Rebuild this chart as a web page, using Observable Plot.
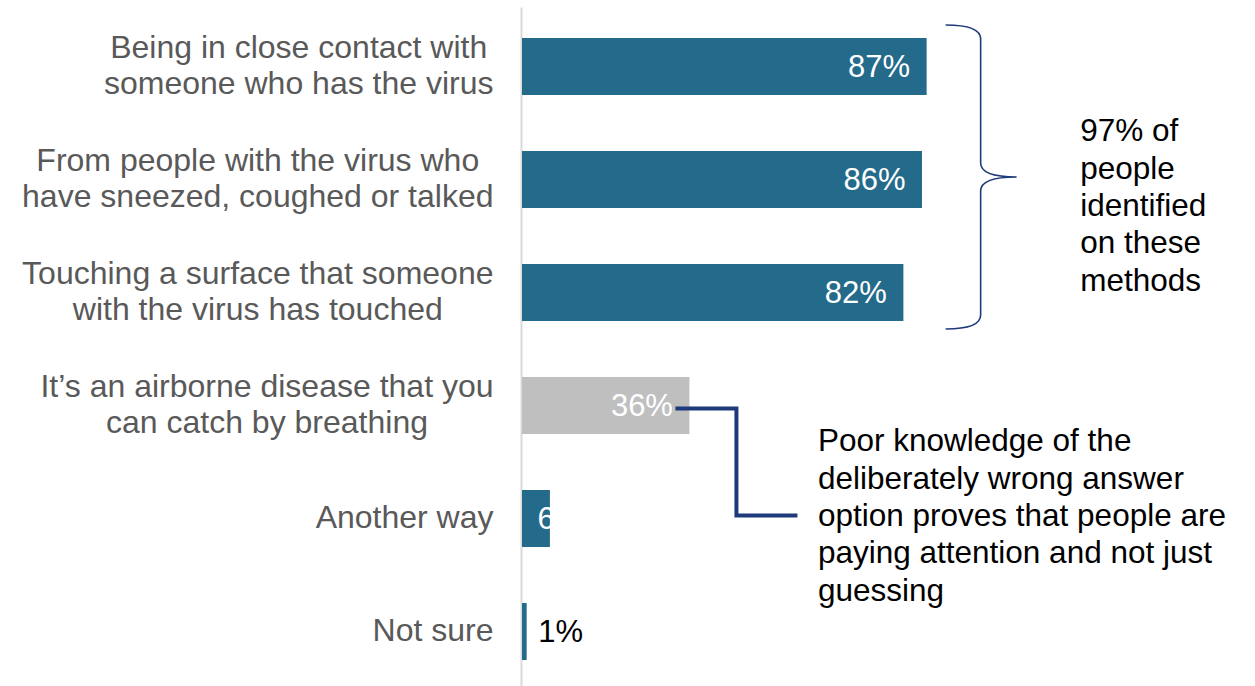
<!DOCTYPE html>
<html>
<head>
<meta charset="utf-8">
<script src="https://cdn.jsdelivr.net/npm/d3@7"></script>
<script src="https://cdn.jsdelivr.net/npm/@observablehq/plot@0.6"></script>
<style>
  html, body { margin: 0; padding: 0; background: #fff; }
  #chart svg { display: block; }
</style>
</head>
<body>
<div id="chart"></div>
<script>
// ---- data ----
const categories = [
  "Being in close contact with\nsomeone who has the virus",
  "From people with the virus who\nhave sneezed, coughed or talked",
  "Touching a surface that someone\nwith the virus has touched",
  "It’s an airborne disease that you\ncan catch by breathing",
  "Another way",
  "Not sure"
];
const values = [87, 86, 82, 36, 6, 1];
const wrongAnswer = categories[3];
const braceNote = "97% of\npeople\nidentified\non these\nmethods";
const wrongNote = "Poor knowledge of the\ndeliberately wrong answer\noption proves that people are\npaying attention and not just\nguessing";

(function () {
const rows = categories.map((category, i) => ({category, value: values[i]}));

// ---- style ----
const FONT = '"Liberation Sans", Arial, Helvetica, sans-serif';
const BLUE = "#246a8a";
const GREY = "#bfbfbf";
const NAVY = "#1f3a7a";
const catSize = 32;

const ctx = document.createElement("canvas").getContext("2d");
ctx.font = `${catSize}px ${FONT}`;
const blockWidth = s => d3.max(s.split("\n"), l => ctx.measureText(l).width);

const labelMarks = rows.map(r => Plot.text([r], {
  x: () => 0, y: "category", text: "category",
  textAnchor: "middle", lineAnchor: "middle",
  dx: -29 - blockWidth(r.category) / 2, dy: -2.5,
  fill: "#595959", fontSize: catSize, lineHeight: 1.13, fontFamily: FONT
}));

const chart = Plot.plot({
  width: 1255,
  height: 686,
  marginLeft: 522,
  marginRight: 0,
  marginTop: 14.5,
  marginBottom: 3,
  style: {fontFamily: FONT, background: "#fff"},
  x: {domain: [0, 157.6], axis: null},
  y: {domain: categories, axis: null, paddingInner: 0.5, paddingOuter: 0.2},
  marks: [
    Plot.ruleX([0], {stroke: "#d9d9d9", strokeWidth: 2, dx: -1, insetTop: -7, insetBottom: -3}),
    Plot.barX(rows, {filter: d => d.category !== wrongAnswer, x: "value", y: "category", fill: BLUE}),
    Plot.barX(rows, {filter: d => d.category === wrongAnswer, x: "value", y: "category", fill: GREY}),
    ...labelMarks,
    Plot.text(rows, {filter: d => d.value >= 10, x: "value", y: "category", text: d => d.value + "%",
      textAnchor: "end", dx: -17, fill: "white", fontSize: 31, fontFamily: FONT}),
    Plot.text(rows, {filter: d => d.value >= 2 && d.value < 10, x: () => 0, y: "category", text: d => d.value + "%",
      textAnchor: "start", dx: 15, fill: "white", fontSize: 31, fontFamily: FONT}),
    Plot.text(rows, {filter: d => d.value < 2, x: "value", y: "category", text: d => d.value + "%",
      textAnchor: "start", dx: 11, fill: "#000", fontSize: 31, fontFamily: FONT}),
    Plot.text([braceNote], {x: () => values[0], y: () => categories[1], text: d => d,
      textAnchor: "start", lineAnchor: "middle", dx: 153, dy: 24,
      fill: "#000", fontSize: 31.5, lineHeight: 1.19, fontFamily: FONT}),
    Plot.text([wrongNote], {x: () => values[3], y: () => categories[4], text: d => d,
      textAnchor: "start", lineAnchor: "middle", dx: 128, dy: -5,
      fill: "#000", fontSize: 31.5, lineHeight: 1.19, fontFamily: FONT})
  ]
});

document.getElementById("chart").appendChild(chart);

// ---- annotation shapes, positioned from the plot's own scales ----
const xs = chart.scale("x");
const ys = chart.scale("y");
const bw = ys.bandwidth;
const bandTop = c => ys.apply(c);
const bandMid = c => ys.apply(c) + bw / 2;
const bandBot = c => ys.apply(c) + bw;

// brace around the first three bars
{
  const xr = xs.apply(values[0]);
  const xl = xr + 19, xsp = xr + 54, xt = xr + 90;
  const y0 = bandTop(categories[0]) - 13;
  const y1 = bandBot(categories[2]) + 8;
  const ym = (y0 + y1) / 2;
  const r = 14;
  const p = d3.path();
  p.moveTo(xl, y0);
  p.quadraticCurveTo(xsp, y0, xsp, y0 + r);
  p.lineTo(xsp, ym - r);
  p.quadraticCurveTo(xsp, ym, xt, ym);
  p.quadraticCurveTo(xsp, ym, xsp, ym + r);
  p.lineTo(xsp, y1 - r);
  p.quadraticCurveTo(xsp, y1, xl, y1);
  d3.select(chart).append("path")
    .attr("d", p.toString())
    .attr("fill", "none")
    .attr("stroke", NAVY)
    .attr("stroke-width", 1.6);
}

// elbow connector from the wrong-answer bar label to its note
{
  const xv = xs.apply(values[3]);
  const ya = bandMid(categories[3]) + 3;
  const yb = bandMid(categories[4]) - 3;
  const pts = [[xv - 14, ya], [xv + 47, ya], [xv + 47, yb], [xv + 108, yb]];
  d3.select(chart).append("path")
    .attr("d", d3.line()(pts))
    .attr("fill", "none")
    .attr("stroke", NAVY)
    .attr("stroke-width", 4);
}
})();
</script>
</body>
</html>
